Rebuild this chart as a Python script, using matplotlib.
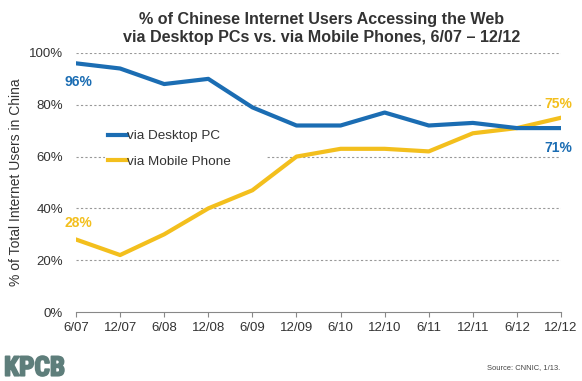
import matplotlib.pyplot as plt
from matplotlib import font_manager
import matplotlib.patheffects as pe

plt.rcParams['font.family'] = ['Liberation Sans', 'DejaVu Sans']

periods = ['6/07', '12/07', '6/08', '12/08', '6/09', '12/09',
           '6/10', '12/10', '6/11', '12/11', '6/12', '12/12']
desktop = [96, 94, 88, 90, 79, 72, 72, 77, 72, 73, 71, 71]
mobile = [28, 22, 30, 40, 47, 60, 63, 63, 62, 69, 71, 75]

blue = '#1b6db3'
yellow = '#f3bf1d'
grey_txt = '#333333'

fig = plt.figure(figsize=(5.82, 3.81), dpi=100)
ax = fig.add_axes([0.1306, 0.181, 0.8334, 0.68])

x = list(range(len(periods)))
ax.plot(x, desktop, color=blue, lw=3, label='via Desktop PC', zorder=3)
ax.plot(x, mobile, color=yellow, lw=3, label='via Mobile Phone', zorder=2)

ax.set_xlim(0, len(periods) - 1)
ax.set_ylim(0, 100)
ax.set_xticks(x)
ax.set_xticklabels(periods, fontsize=9.5, color=grey_txt)
ax.set_yticks(range(0, 101, 20))
ax.set_yticklabels([f'{v}%' for v in range(0, 101, 20)], fontsize=9.5, color=grey_txt)
ax.tick_params(axis='y', length=0, pad=9.5)
ax.tick_params(axis='x', length=3.5, color='#888888', direction='out', pad=3.5)

for v in range(20, 101, 20):
    ax.axhline(v, color='#999999', lw=0.8, ls=(0, (2, 2)), zorder=0)

for s in ['top', 'right', 'left']:
    ax.spines[s].set_visible(False)
ax.spines['bottom'].set_color('#888888')

ax.set_ylabel('% of Total Internet Users in China', fontsize=10, color=grey_txt, labelpad=4)

# end-point labels
ax.text(-0.25, 88.8, f'{desktop[0]}%', color=blue, fontsize=10, fontweight='bold',
        va='center', clip_on=False)
ax.text(-0.25, 34.4, f'{mobile[0]}%', color=yellow, fontsize=10, fontweight='bold',
        va='center', clip_on=False)
ax.text(11.25, 80.3, f'{mobile[-1]}%', color=yellow, fontsize=10, fontweight='bold',
        ha='right', va='center', clip_on=False,
        bbox=dict(facecolor='white', edgecolor='none', pad=2))
ax.text(11.25, 63.3, f'{desktop[-1]}%', color=blue, fontsize=10, fontweight='bold',
        ha='right', va='center', clip_on=False)

leg = ax.legend(loc='upper left', bbox_to_anchor=(0.06, 0.42, 0.334, 0.293),
                mode='expand', frameon=True, fontsize=9.7, handlelength=1.4,
                handletextpad=0.05, labelspacing=0.95, borderpad=0.2,
                borderaxespad=0)
leg.get_frame().set_edgecolor('none')
leg.get_frame().set_facecolor('white')
leg.get_frame().set_alpha(1)
for t in leg.get_texts():
    t.set_color(grey_txt)

fig.text(0.553, 0.968, '% of Chinese Internet Users Accessing the Web\n'
         'via Desktop PCs vs. via Mobile Phones, 6/07 \u2013 12/12',
         ha='center', va='top', fontsize=11.6, fontweight='bold', color=grey_txt,
         linespacing=1.2)

# look for a bold condensed face for the logo
logo_font = None
for pref in ['RobotoCondensed-Bold', 'LiberationSansNarrow-Bold',
             'DejaVuSansCondensed-Bold']:
    for f in font_manager.fontManager.ttflist:
        if pref.lower() in f.fname.lower().replace(' ', ''):
            logo_font = font_manager.FontProperties(fname=f.fname, size=19.5)
            break
    if logo_font is not None:
        break
if logo_font is None:
    logo_font = font_manager.FontProperties(family='DejaVu Sans', weight='bold', size=16)
logo_col = '#5e7e7b'
fig.text(0.007, 0.014, 'KPCB', fontproperties=logo_font, color=logo_col,
         path_effects=[pe.withStroke(linewidth=1.3, foreground=logo_col)])
fig.text(0.837, 0.034, 'Source: CNNIC, 1/13.', fontsize=5.4, color='#444444',
         va='center')

fig.savefig('out.png', dpi=100)
